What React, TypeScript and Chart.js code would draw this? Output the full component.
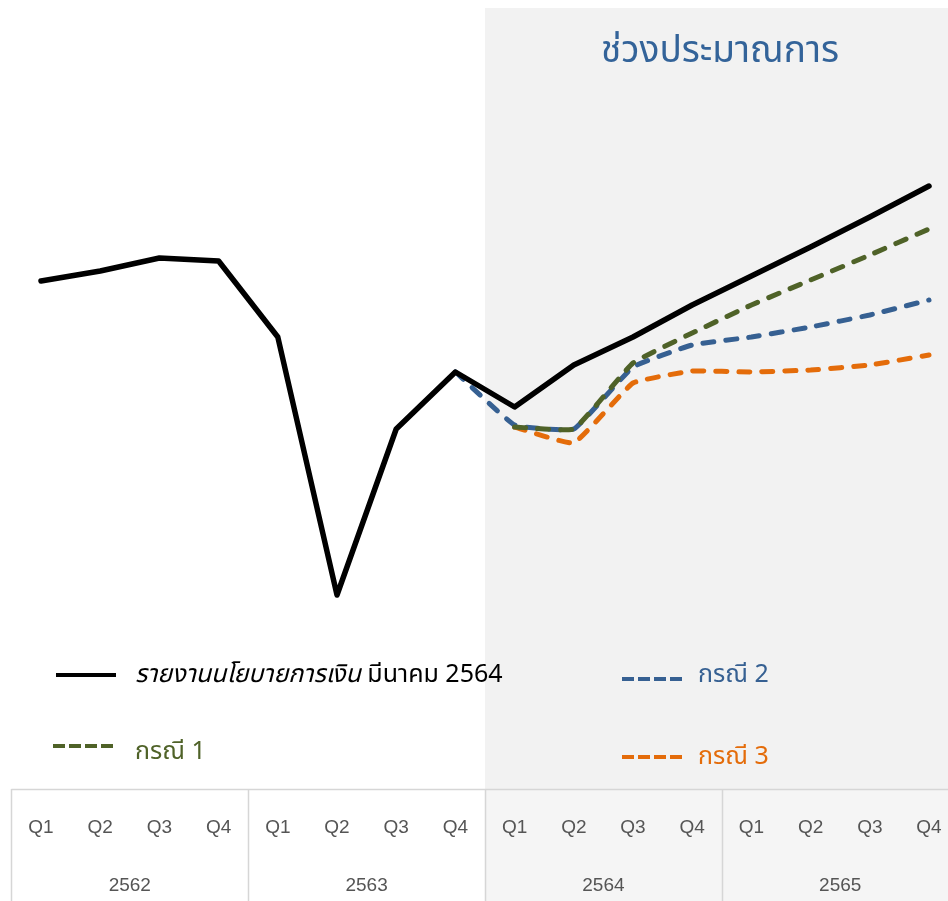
import React, { useEffect, useRef } from "react";
import { Chart, registerables } from "chart.js";

Chart.register(...registerables);

const quarters = [
  "Q1", "Q2", "Q3", "Q4",
  "Q1", "Q2", "Q3", "Q4",
  "Q1", "Q2", "Q3", "Q4",
  "Q1", "Q2", "Q3", "Q4",
];
const years = ["2562", "2563", "2564", "2565"];

// index values (arbitrary units)
const actual = [50.8, 51.8, 53.1, 52.8, 45.2, 19.4, 36.0, 41.7, 38.2, 42.4, 45.2, 48.4, 51.3, 54.2, 57.2, 60.3];
const case1 = [null, null, null, null, null, null, null, null, 36.2, 36.0, 42.6, 45.6, 48.4, 50.9, 53.4, 56.0];
const case2 = [null, null, null, null, null, null, null, 41.7, 36.4, 36.0, 42.2, 44.4, 45.2, 46.2, 47.4, 48.9];
const case3 = [null, null, null, null, null, null, null, null, 36.2, 34.6, 40.6, 41.8, 41.7, 41.9, 42.4, 43.4];

const forecastStartIndex = 8;
const titleText = "ช่วงประมาณการ";
const legendActualItalic = "รายงานนโยบายการเงิน";
const legendActualRest = " มีนาคม 2564";
const legendCase1 = "กรณี 1";
const legendCase2 = "กรณี 2";
const legendCase3 = "กรณี 3";

const BLACK = "#000000";
const GREEN = "#4f6228";
const BLUE = "#366092";
const ORANGE = "#e46c0a";

const THAI = '"Noto Sans Thai", "Noto Sans", "Liberation Sans", sans-serif';
const LATIN = '"Liberation Sans", Arial, sans-serif';

const W = 960;
const H = 901;

const decorPlugin = {
  id: "decor",
  beforeDatasetsDraw(chart: any) {
    const ctx = chart.ctx;
    const x = chart.scales.x;
    const area = chart.chartArea;
    const split = (x.getPixelForValue(forecastStartIndex - 1) + x.getPixelForValue(forecastStartIndex)) / 2;
    ctx.save();
    ctx.fillStyle = "#f2f2f2";
    ctx.fillRect(split, area.top, W - split, area.bottom - area.top);
    ctx.fillStyle = "#f5f5f5";
    ctx.fillRect(split, area.bottom, W - split, H - area.bottom);
    // title
    ctx.fillStyle = "#336399";
    ctx.font = `37px ${THAI}`;
    ctx.textAlign = "center";
    ctx.textBaseline = "middle";
    ctx.fillText(titleText, 720, 55);
    ctx.restore();
  },
  afterDraw(chart: any) {
    const ctx = chart.ctx;
    const x = chart.scales.x;
    const area = chart.chartArea;
    const step = x.getPixelForValue(1) - x.getPixelForValue(0);
    ctx.save();
    // table lines
    ctx.strokeStyle = "#d6d6d6";
    ctx.lineWidth = 1.5;
    ctx.beginPath();
    ctx.moveTo(area.left, area.bottom + 0.5);
    ctx.lineTo(W, area.bottom + 0.5);
    for (let g = 0; g < years.length; g++) {
      const bx = Math.round(x.getPixelForValue(g * 4) - step / 2) + 0.5;
      ctx.moveTo(bx, area.bottom);
      ctx.lineTo(bx, H);
    }
    ctx.stroke();
    // quarter labels
    ctx.fillStyle = "#555555";
    ctx.font = `19px ${LATIN}`;
    ctx.textAlign = "center";
    ctx.textBaseline = "middle";
    quarters.forEach((q, i) => {
      ctx.fillText(q, x.getPixelForValue(i), area.bottom + 39);
    });
    years.forEach((y, g) => {
      const cx = (x.getPixelForValue(g * 4) + x.getPixelForValue(g * 4 + 3)) / 2;
      ctx.fillText(y, cx, area.bottom + 97);
    });

    // legend
    const drawLine = (x1: number, x2: number, y: number, color: string, dash: number[]) => {
      ctx.save();
      ctx.strokeStyle = color;
      ctx.lineWidth = 4;
      ctx.lineCap = "butt";
      ctx.setLineDash(dash);
      ctx.beginPath();
      ctx.moveTo(x1, y);
      ctx.lineTo(x2, y);
      ctx.stroke();
      ctx.restore();
    };
    ctx.textAlign = "left";
    ctx.textBaseline = "middle";
    drawLine(56, 116, 675, BLACK, []);
    ctx.fillStyle = BLACK;
    ctx.font = `italic 25px ${THAI}`;
    ctx.fillText(legendActualItalic, 135, 677);
    const wItal = ctx.measureText(legendActualItalic).width;
    ctx.font = `25px ${THAI}`;
    ctx.fillText(legendActualRest, 135 + wItal, 677);

    drawLine(53, 116, 746, GREEN, [12, 4]);
    ctx.fillStyle = GREEN;
    ctx.font = `25px ${THAI}`;
    ctx.fillText(legendCase1, 135, 754);

    drawLine(622, 684, 679, BLUE, [12, 4]);
    ctx.fillStyle = BLUE;
    ctx.fillText(legendCase2, 698, 677);

    drawLine(622, 684, 757, ORANGE, [12, 4]);
    ctx.fillStyle = ORANGE;
    ctx.fillText(legendCase3, 698, 759);
    ctx.restore();
  },
};

export default function App() {
  const ref = useRef<HTMLCanvasElement | null>(null);
  useEffect(() => {
    if (!ref.current) return;
    const dashed = { borderWidth: 5, borderDash: [11, 12], borderCapStyle: "round" as const };
    const chart = new Chart(ref.current, {
      type: "line",
      data: {
        labels: quarters,
        datasets: [
          { label: "actual", data: actual, borderColor: BLACK, borderWidth: 5.5, borderCapStyle: "round", borderJoinStyle: "round", pointRadius: 0, tension: 0 },
          { label: "case1", data: case1 as any, borderColor: GREEN, ...dashed, borderJoinStyle: "round", pointRadius: 0, tension: 0.1 },
          { label: "case2", data: case2 as any, borderColor: BLUE, ...dashed, borderJoinStyle: "round", pointRadius: 0, tension: 0.1 },
          { label: "case3", data: case3 as any, borderColor: ORANGE, ...dashed, borderJoinStyle: "round", pointRadius: 0, tension: 0.1 },
        ],
      },
      options: {
        responsive: false,
        maintainAspectRatio: false,
        animation: false,
        events: [],
        layout: { padding: { left: 11.4, right: W - 958.6, top: 8, bottom: H - 789 } },
        scales: {
          x: { type: "category", offset: true, display: false },
          y: { display: false, min: 0, max: 78.1 },
        },
        plugins: { legend: { display: false }, tooltip: { enabled: false } },
      },
      plugins: [decorPlugin],
    });
    return () => chart.destroy();
  }, []);
  return (
    <div style={{ position: "fixed", left: 0, top: 0, width: 948, height: H, overflow: "hidden", background: "#fff" }}>
      <canvas ref={ref} width={W} height={H} style={{ width: W, height: H, display: "block" }} />
    </div>
  );
}
